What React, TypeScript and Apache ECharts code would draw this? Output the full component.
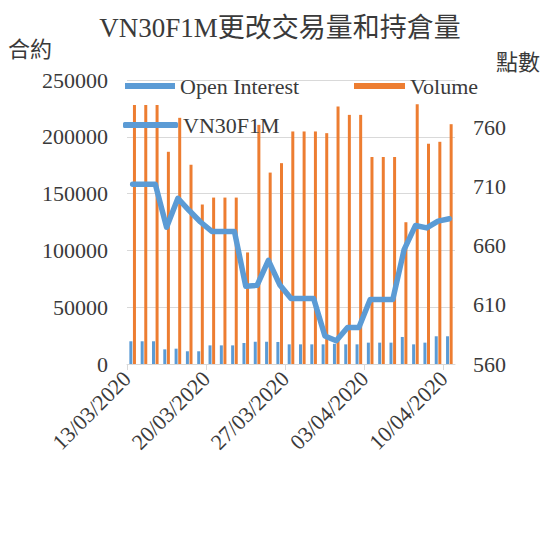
import React, { useEffect, useRef } from "react";
import * as echarts from "echarts";

const dates = [
  "13/03/2020", "14/03/2020", "15/03/2020", "16/03/2020", "17/03/2020", "18/03/2020", "19/03/2020",
  "20/03/2020", "21/03/2020", "22/03/2020", "23/03/2020", "24/03/2020", "25/03/2020", "26/03/2020",
  "27/03/2020", "28/03/2020", "29/03/2020", "30/03/2020", "31/03/2020", "01/04/2020", "02/04/2020",
  "03/04/2020", "04/04/2020", "05/04/2020", "06/04/2020", "07/04/2020", "08/04/2020", "09/04/2020",
  "10/04/2020",
];

const openInterest = [
  20000, 20000, 20000, 12900, 13500, 11200, 11200,
  16400, 16400, 16400, 18500, 19600, 19600, 19400,
  17300, 17300, 17300, 17300, 17800, 17300, 17300,
  18800, 18800, 18800, 23800, 17300, 18800, 24400,
  24400,
];

const volume = [
  228000, 228000, 228000, 186800, 216700, 175400, 140400,
  146500, 146500, 146500, 98200, 210500, 168500, 176800,
  204700, 204700, 204700, 203200, 226600, 219300, 219300,
  182200, 182200, 182200, 124800, 228700, 193900, 195600,
  211100,
];

const vn30 = [
  712, 712, 712, 675.6, 700, 689.7, 680,
  672, 672, 672, 625.7, 626.5, 647.6, 627,
  615.3, 615.3, 615.3, 583.6, 579.6, 590.9, 590.9,
  614.5, 614.5, 614.5, 656.6, 677, 675, 680.7,
  682.7,
];

const leftTicks = { min: 0, max: 250000, interval: 50000 };
const rightTicks = { min: 560, max: 800, interval: 50, lastLabel: 760 };

const FONT = "'Liberation Serif', 'Times New Roman', 'Noto Sans CJK TC', serif";
const CJK = "'Noto Sans CJK TC', 'Liberation Serif', serif";
const TEXT = "#3a3a3a";
const BLUE = "#5B9BD5";
const ORANGE = "#ED7D31";
const GRID = "#d9d9d9";

export default function App() {
  const ref = useRef<HTMLDivElement>(null);
  useEffect(() => {
    if (!ref.current) return;
    const chart = echarts.init(ref.current, null, { renderer: "svg" });
    const labelAxis = [...dates, ""];
    chart.setOption({
      animation: false,
      grid: { left: 127, right: 90, top: 80, bottom: 171, containLabel: false },
      graphic: [
        {
          type: "text",
          x: 280,
          y: 28,
          style: {
            text: "VN30F1M更改交易量和持倉量",
            font: `27px ${FONT}`,
            fill: TEXT,
            textAlign: "center",
            textVerticalAlign: "middle",
          },
        },
        {
          type: "text",
          x: 8,
          y: 47,
          style: { text: "合約", font: `22px ${CJK}`, fill: TEXT, textAlign: "left", textVerticalAlign: "middle" },
        },
        {
          type: "text",
          x: 496,
          y: 60,
          style: { text: "點數", font: `22px ${CJK}`, fill: TEXT, textAlign: "left", textVerticalAlign: "middle" },
        },
      ],
      legend: [
        {
          data: ["Open Interest"],
          left: 125,
          top: 75,
          padding: 0,
          itemWidth: 50,
          itemHeight: 6,
          icon: "rect",
          textStyle: { fontSize: 22, fontFamily: FONT, color: TEXT },
        },
        {
          data: ["Volume"],
          left: 354,
          top: 75,
          padding: 0,
          itemWidth: 51,
          itemHeight: 6,
          icon: "rect",
          textStyle: { fontSize: 22, fontFamily: FONT, color: TEXT },
        },
        {
          data: ["VN30F1M"],
          left: 123,
          top: 114,
          padding: 0,
          itemWidth: 55,
          itemHeight: 6,
          icon: "roundRect",
          textStyle: { fontSize: 22, fontFamily: FONT, color: TEXT },
        },
      ],
      xAxis: [
        {
          type: "category",
          data: dates,
          position: "top",
          show: false,
          boundaryGap: true,
        },
        {
          type: "category",
          data: labelAxis,
          position: "bottom",
          boundaryGap: false,
          axisLine: { show: true, lineStyle: { color: GRID, width: 1 } },
          axisTick: { show: true, interval: 6, length: 6, lineStyle: { color: GRID } },
          axisLabel: {
            interval: 6,
            rotate: 45,
            margin: 11,
            fontSize: 22,
            fontFamily: FONT,
            color: TEXT,
          },
          splitLine: { show: false },
        },
      ],
      yAxis: [
        {
          type: "value",
          min: leftTicks.min,
          max: leftTicks.max,
          interval: leftTicks.interval,
          axisLine: { show: false },
          axisTick: { show: false },
          axisLabel: {
            fontSize: 22,
            fontFamily: FONT,
            color: TEXT,
            margin: 19,
            formatter: (v: number) => String(v),
          },
          splitLine: { show: true, lineStyle: { color: GRID, width: 1 } },
        },
        {
          type: "value",
          min: rightTicks.min,
          max: rightTicks.max,
          interval: rightTicks.interval,
          position: "right",
          axisLine: { show: false },
          axisTick: { show: false },
          axisLabel: {
            fontSize: 22,
            fontFamily: FONT,
            color: TEXT,
            margin: 18,
            formatter: (v: number) => (v > rightTicks.lastLabel ? "" : String(v)),
          },
          splitLine: { show: false },
        },
      ],
      series: [
        {
          name: "Open Interest",
          type: "bar",
          xAxisIndex: 0,
          yAxisIndex: 0,
          data: openInterest,
          barWidth: 3,
          barGap: "20%",
          itemStyle: { color: BLUE },
        },
        {
          name: "Volume",
          type: "bar",
          xAxisIndex: 0,
          yAxisIndex: 0,
          data: volume,
          barWidth: 3,
          barGap: "20%",
          itemStyle: { color: ORANGE },
        },
        {
          name: "VN30F1M",
          type: "line",
          xAxisIndex: 0,
          yAxisIndex: 1,
          data: vn30,
          symbol: "none",
          lineStyle: { color: BLUE, width: 5.5, join: "round", cap: "round" },
          itemStyle: { color: BLUE },
          z: 5,
        },
      ],
    });
    return () => chart.dispose();
  }, []);
  return (
    <div
      ref={ref}
      style={{ position: "absolute", left: 0, top: 0, width: 545, height: 535, background: "#fff" }}
    />
  );
}
